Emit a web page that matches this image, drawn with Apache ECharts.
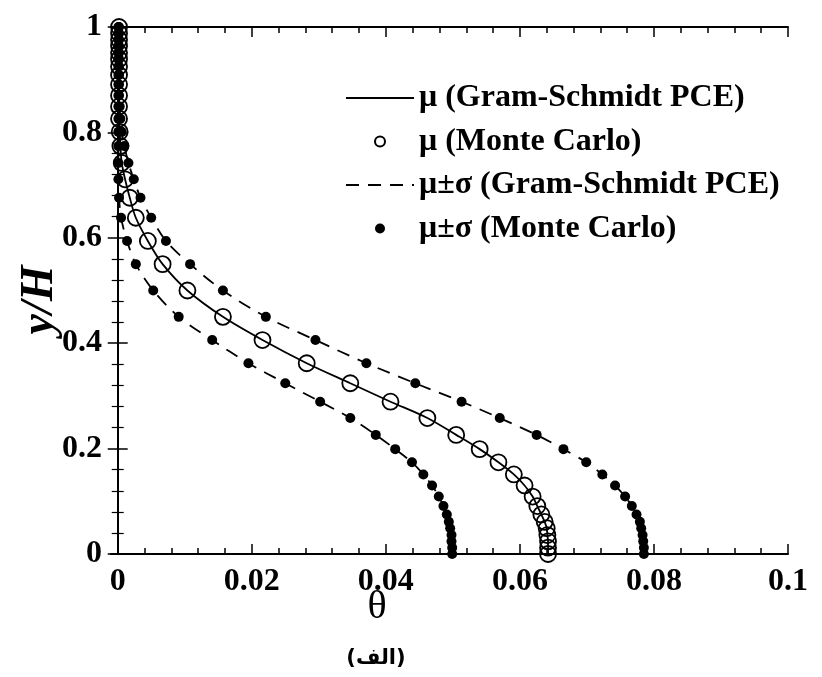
<!DOCTYPE html>
<html><head><meta charset="utf-8">
<script src="https://cdn.jsdelivr.net/npm/echarts@6/dist/echarts.min.js"></script>
<style>html,body{margin:0;padding:0;background:#fff}#c{width:822px;height:677px}</style>
</head><body><div id="c"></div>
<script>
// y/H positions (shared by all profiles)
const yGrid = [0, 0.012, 0.024, 0.036, 0.049, 0.061, 0.075, 0.091, 0.109, 0.130, 0.151, 0.174, 0.199, 0.226, 0.258, 0.289, 0.324, 0.362, 0.406, 0.450, 0.500,
  0.550, 0.594, 0.638, 0.676, 0.711, 0.742, 0.774, 0.801, 0.826, 0.849, 0.870, 0.891, 0.909, 0.925, 0.939, 0.951, 0.964, 0.976, 0.988, 1.0];
// mean θ
const thetaMean = [0.0642, 0.0642, 0.0642, 0.0641, 0.0640, 0.0637, 0.0632, 0.0626, 0.0619, 0.0607, 0.0591, 0.0568, 0.0540, 0.0505, 0.0462, 0.0407, 0.0347, 0.0282, 0.0216, 0.0157, 0.0104,
  0.0067, 0.0045, 0.0027, 0.0018, 0.0011, 0.0006, 0.0004, 0.0003, 0.0002, 0.0002, 0.0002, 0.0002, 0.0002, 0.0002, 0.0002, 0.0002, 0.0002, 0.0002, 0.0002, 0.0002];
// mean + sigma
const thetaUpper = [0.0785, 0.0785, 0.0784, 0.0783, 0.0781, 0.0779, 0.0774, 0.0767, 0.0757, 0.0742, 0.0723, 0.0699, 0.0665, 0.0625, 0.0570, 0.0513, 0.0444, 0.0371, 0.0295, 0.0221, 0.0157,
  0.0108, 0.0072, 0.0050, 0.0034, 0.0024, 0.0016, 0.0010, 0.0006, 0.0004, 0.0003, 0.0002, 0.0002, 0.0002, 0.0002, 0.0002, 0.0002, 0.0002, 0.0002, 0.0002, 0.0002];
// mean - sigma
const thetaLower = [0.0499, 0.0499, 0.0498, 0.0498, 0.0496, 0.0494, 0.0491, 0.0486, 0.0479, 0.0469, 0.0456, 0.0439, 0.0414, 0.0385, 0.0347, 0.0302, 0.0250, 0.0195, 0.0141, 0.0091, 0.0053,
  0.0027, 0.0014, 0.0005, 0.0002, 0.0001, 0.0001, 0.0001, 0.0001, 0.0001, 0.0001, 0.0001, 0.0001, 0.0001, 0.0001, 0.0001, 0.0001, 0.0001, 0.0001, 0.0001, 0.0001];

const xMajorTicks = [0, 0.02, 0.04, 0.06, 0.08, 0.1];
const xMinorTicks = [0.004, 0.008, 0.012, 0.016, 0.024, 0.028, 0.032, 0.036, 0.044, 0.048, 0.052, 0.056, 0.064, 0.068, 0.072, 0.076, 0.084, 0.088, 0.092, 0.096];
const legendNames = ['μ (Gram-Schmidt PCE)', 'μ (Monte Carlo)', 'μ±σ (Gram-Schmidt PCE)', 'μ±σ (Monte Carlo)'];
const xTitle = 'θ';
const yTitle = 'y/H';
const caption = '(الف)';

const pts = arr => yGrid.map((y, i) => [arr[i], y]);
const serif = 'Liberation Serif';
const lab = {fontFamily: serif, fontSize: 32, fontWeight: 'bold', color: '#000'};
const XMIN = -0.001, XMAX = 0.1;
const axLine = {show: true, lineStyle: {color: '#000', width: 2}};

function xAx(pos, ticks, len, showLine, showLabel) {
  return {type: 'value', position: pos, min: XMIN, max: XMAX,
    axisLine: showLine ? axLine : {show: false},
    axisTick: {show: true, inside: true, length: len, customValues: ticks, lineStyle: {color: '#000', width: 1.5}},
    axisLabel: showLabel ? Object.assign({show: true, margin: 12, customValues: xMajorTicks,
      formatter: v => String(+(+v).toFixed(3))}, lab) : {show: false},
    splitLine: {show: false}};
}
function yAx(pos, showLabel) {
  return {type: 'value', position: pos, min: 0, max: 1, interval: 0.2,
    axisLine: axLine,
    axisTick: {show: true, inside: true, length: 10, lineStyle: {color: '#000', width: 1.5}},
    minorTick: {show: true, splitNumber: 5, length: 6, lineStyle: {color: '#000', width: 1.2}},
    axisLabel: showLabel ? Object.assign({show: true, margin: 9, formatter: v => String(+(+v).toFixed(2))}, lab) : {show: false},
    splitLine: {show: false}, minorSplitLine: {show: false}};
}
const hideSym = {color: 'rgba(0,0,0,0)', borderWidth: 0, opacity: 0};

const chart = echarts.init(document.getElementById('c'), null, {renderer: 'canvas'});
chart.setOption({
  animation: false,
  backgroundColor: '#fff',
  grid: {left: 111, right: 34, top: 27, bottom: 123, containLabel: false},
  xAxis: [xAx('bottom', xMajorTicks, 10, true, true), xAx('bottom', xMinorTicks, 6, false, false),
          xAx('top', xMajorTicks, 10, true, false), xAx('top', xMinorTicks, 6, false, false)],
  yAxis: [yAx('left', true), yAx('right', false)],
  legend: {
    orient: 'vertical', left: 340, top: 76, itemWidth: 68, itemHeight: 10, itemGap: 9.5,
    data: [{name: legendNames[0], itemStyle: hideSym}, legendNames[1], {name: legendNames[2], itemStyle: hideSym}, legendNames[3]],
    textStyle: {fontFamily: serif, fontSize: 32, fontWeight: 'bold', color: '#000', lineHeight: 34},
    selectedMode: false
  },
  series: [
    {type: 'line', name: legendNames[0], data: pts(thetaMean), symbol: 'none', smooth: 0.3,
     lineStyle: {color: '#000', width: 1.8}, itemStyle: {color: '#000'}, z: 2},
    {type: 'line', name: legendNames[2], data: pts(thetaUpper), symbol: 'none', smooth: 0.3,
     lineStyle: {color: '#000', width: 1.8, type: [13, 9]}, itemStyle: {color: '#000'}, z: 2},
    {type: 'line', name: legendNames[2], data: pts(thetaLower), symbol: 'none', smooth: 0.3,
     lineStyle: {color: '#000', width: 1.8, type: [13, 9]}, itemStyle: {color: '#000'}, z: 2},
    {type: 'scatter', name: legendNames[1], data: pts(thetaMean), symbol: 'circle', symbolSize: 16,
     itemStyle: {color: 'rgba(255,255,255,0)', borderColor: '#000', borderWidth: 1.8, opacity: 1}, z: 3},
    {type: 'scatter', name: legendNames[3], data: pts(thetaUpper), symbol: 'circle', symbolSize: 10,
     itemStyle: {color: '#000', opacity: 1}, z: 4},
    {type: 'scatter', name: legendNames[3], data: pts(thetaLower), symbol: 'circle', symbolSize: 10,
     itemStyle: {color: '#000', opacity: 1}, z: 4}
  ],
  graphic: [
    {type: 'text', x: 377, y: 607, style: {text: xTitle, font: '40px "Liberation Serif"', fill: '#000', align: 'center', verticalAlign: 'middle'}},
    {type: 'text', x: 40, y: 300, rotation: Math.PI / 2, style: {text: yTitle, font: 'italic bold 46px "Liberation Serif"', fill: '#000', align: 'center', verticalAlign: 'middle'}},
    {type: 'text', x: 376, y: 659, style: {text: caption, font: 'bold 21px "DejaVu Sans"', fill: '#000', align: 'center', verticalAlign: 'middle'}}
  ]
});
</script></body></html>
